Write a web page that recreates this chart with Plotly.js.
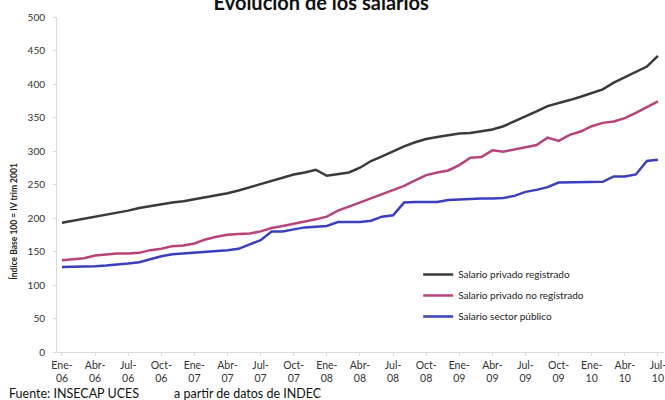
<!DOCTYPE html>
<html>
<head>
<meta charset="utf-8">
<script src="https://cdn.plot.ly/plotly-3.0.1.min.js"></script>
<style>
html,body{margin:0;padding:0;background:#fff;}
#chart{width:665px;height:400px;}
</style>
</head>
<body>
<div id="chart"></div>
<script>
// Monthly index values, Ene-06 .. Jul-10
const months = ["Ene","Feb","Mar","Abr","May","Jun","Jul","Ago","Sep","Oct","Nov","Dic"];
const startYear = 2006;
const nPoints = 55;

const seriesNames = ["Salario privado registrado", "Salario privado no registrado", "Salario sector público"];

const privadoRegistrado = [193,196,198,201,204,207,211,215,218,220,223,225,228,230,233,237,241,246,251,256,
  261,265,268,272,263,265,268,275,285,292,300,307,313,318,321,324,326,327,329,332,
  337,344,352,359,367,371,376,381,386,392,402,410,418,426,442];

const privadoNoRegistrado = [137,138,140,144,146,147,147,148,152,154,158,159,162,168,172,175,176,177,180,185,
  188,191,195,198,202,211,217,223,230,236,241,248,256,264,268,271,279,290,291,301,
  299,302,306,309,320,315,324,329,337,342,344,349,357,366,374];

const sectorPublico = [127,127,127,128,129,130,132,134,139,143,146,147,148,150,151,152,154,160,167,180,
  180,183,186,187,188,194,194,194,196,202,204,223,224,224,224,227,228,228,229,229,
  230,233,239,242,246,253,253,253,253,254,262,262,265,285,287];

const seriesValues = [privadoRegistrado, privadoNoRegistrado, sectorPublico];
const seriesColors = ["#3a3a3a", "#b8437a", "#3b3fbe"];

// category labels (every 3 months)
const categories = [];
for (let i = 0; i < nPoints; i++) {
  const m = i % 12, y = startYear + Math.floor(i / 12);
  categories.push(months[m] + "-" + String(y).slice(2));
}
const tickIdx = [];
const tickLabels = [];
for (let i = 0; i < nPoints; i += 3) {
  tickIdx.push(i);
  const parts = categories[i].split("-");
  tickLabels.push(parts[0] + "-<br>" + parts[1]);
}
const xIdx = categories.map((_, i) => i);

const traces = seriesValues.map((vals, k) => ({
  type: "scatter",
  mode: "lines",
  name: seriesNames[k],
  legendgroup: "g" + k,
  x: xIdx,
  y: vals,
  text: categories,
  line: {color: seriesColors[k], width: 2.5},
  hovertemplate: "%{text}: %{y}<extra>" + seriesNames[k] + "</extra>"
}));

const FONT = "Lato, 'Open Sans', sans-serif";

const layout = {
  width: 665, height: 400,
  margin: {l: 57, r: 1, t: 17, b: 48},
  paper_bgcolor: "#fff", plot_bgcolor: "#fff",
  font: {family: FONT, size: 10, color: "#333"},
  title: {
    text: "<b>Evolución de los salarios</b>",
    font: {family: FONT, size: 20, color: "#111"},
    x: 0.483, xanchor: "center",
    y: 0.992, yref: "container", yanchor: "middle"
  },
  showlegend: true,
  legend: {
    x: 0.595, xanchor: "left",
    y: 0.275, yanchor: "top",
    font: {family: FONT, size: 10, color: "#222"},
    bgcolor: "rgba(0,0,0,0)",
    tracegroupgap: 2,
    itemwidth: 30
  },
  xaxis: {
    range: [-0.45, 54.55],
    tickmode: "array",
    tickvals: tickIdx,
    ticktext: tickLabels,
    tickangle: 0,
    ticklabeloverflow: "allow",
    showgrid: false,
    zeroline: false,
    showline: true,
    linecolor: "#d9d9d9",
    linewidth: 1,
    ticks: "outside",
    ticklen: 3,
    tickcolor: "#d9d9d9",
    tickfont: {family: FONT, size: 10.5, color: "#333"}
  },
  yaxis: {
    range: [0, 500],
    dtick: 50,
    showgrid: false,
    zeroline: false,
    showline: true,
    linecolor: "#d9d9d9",
    linewidth: 1,
    ticks: "outside",
    ticklen: 3,
    tickcolor: "#d9d9d9",
    ticklabelstandoff: 6,
    tickfont: {family: FONT, size: 10, color: "#333"}
  },
  annotations: [
    {
      text: "<b>Índice Base 100 = IV trim 2001</b>",
      xref: "paper", yref: "paper",
      x: -0.072, y: 0.39, xanchor: "center", yanchor: "middle",
      textangle: -90, showarrow: false,
      font: {family: FONT, size: 8.5, color: "#222"}
    },
    {
      text: "Fuente: INSECAP UCES",
      xref: "paper", yref: "paper",
      x: -0.083, y: -0.125, xanchor: "left", yanchor: "middle",
      showarrow: false,
      font: {family: FONT, size: 12.5, color: "#111"}
    },
    {
      text: "a partir de datos de INDEC",
      xref: "paper", yref: "paper",
      x: 0.189, y: -0.125, xanchor: "left", yanchor: "middle",
      showarrow: false,
      font: {family: FONT, size: 12.5, color: "#111"}
    }
  ]
};

Plotly.newPlot("chart", traces, layout, {displayModeBar: false, staticPlot: true});
</script>
</body>
</html>
